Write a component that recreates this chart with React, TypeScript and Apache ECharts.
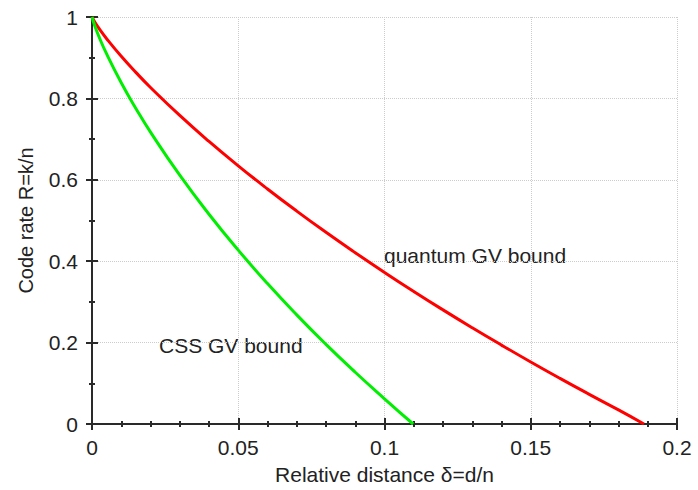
import React, { useEffect, useRef } from "react";
import * as echarts from "echarts";

const deltaQuantum = [0, 0.001, 0.0025, 0.005, 0.01, 0.015, 0.02, 0.03, 0.04, 0.05, 0.06, 0.07, 0.08, 0.09, 0.1, 0.11, 0.12, 0.13, 0.14, 0.15, 0.16, 0.17, 0.18, 0.1887];
const rateQuantum = [1, 0.987, 0.9708, 0.9467, 0.9034, 0.8639, 0.8269, 0.7581, 0.6943, 0.6344, 0.5775, 0.5231, 0.471, 0.4209, 0.3725, 0.3257, 0.2804, 0.2365, 0.1939, 0.1524, 0.1121, 0.0729, 0.0346, 0];
const deltaCSS = [0, 0.001, 0.0025, 0.005, 0.01, 0.015, 0.02, 0.03, 0.04, 0.05, 0.06, 0.07, 0.08, 0.09, 0.1, 0.1098];
const rateCSS = [1, 0.9772, 0.9496, 0.9092, 0.8384, 0.7753, 0.7171, 0.6112, 0.5154, 0.4272, 0.3451, 0.2682, 0.1956, 0.1271, 0.062, 0];

const FONT = "Liberation Sans, Arial, sans-serif";

export default function App() {
  const ref = useRef<HTMLDivElement>(null);
  useEffect(() => {
    if (!ref.current) return;
    const chart = echarts.init(ref.current, null, { renderer: "svg" });
    const axisLine = { show: true, lineStyle: { color: "#2a2a2a", width: 2 } };
    const tick = { show: true, inside: true, length: 6, lineStyle: { color: "#2a2a2a", width: 2 } };
    const minor = (n: number) => ({ show: true, splitNumber: n, length: 3, lineStyle: { color: "#2a2a2a", width: 2 } });
    chart.setOption({
      animation: false,
      backgroundColor: "#fff",
      grid: { left: 92, right: 21, top: 17, bottom: 61 },
      xAxis: [
        {
          type: "value", min: 0, max: 0.2, interval: 0.05, position: "bottom",
          axisLine, axisTick: tick, minorTick: minor(5),
          axisLabel: { fontFamily: FONT, fontSize: 21, color: "#222", margin: 13 },
          splitLine: { show: true, lineStyle: { color: "#ccc", type: "dotted", width: 1 } },
          name: "Relative distance δ=d/n", nameLocation: "middle", nameGap: 40,
          nameTextStyle: { fontFamily: FONT, fontSize: 21, color: "#222" },
        },
        {
          type: "value", min: 0, max: 0.2, interval: 0.05, position: "top",
          axisLine, axisTick: tick, minorTick: minor(5),
          axisLabel: { show: false }, splitLine: { show: false },
        },
      ],
      yAxis: [
        {
          type: "value", min: 0, max: 1, interval: 0.2, position: "left",
          axisLine, axisTick: tick, minorTick: minor(2),
          axisLabel: { fontFamily: FONT, fontSize: 21, color: "#222", margin: 14 },
          splitLine: { show: true, lineStyle: { color: "#ccc", type: "dotted", width: 1 } },
          name: "Code rate R=k/n", nameLocation: "middle", nameGap: 56,
          nameTextStyle: { fontFamily: FONT, fontSize: 20, color: "#222" },
        },
        {
          type: "value", min: 0, max: 1, interval: 0.2, position: "right",
          axisLine, axisTick: tick, minorTick: minor(2),
          axisLabel: { show: false }, splitLine: { show: false },
        },
      ],
      series: [
        {
          type: "line", name: "quantum GV bound", showSymbol: false, smooth: true,
          data: deltaQuantum.map((d, i) => [d, rateQuantum[i]]),
          lineStyle: { color: "#f00", width: 3 }, z: 3,
        },
        {
          type: "line", name: "CSS GV bound", showSymbol: false, smooth: true,
          data: deltaCSS.map((d, i) => [d, rateCSS[i]]),
          lineStyle: { color: "#0e0", width: 3 }, z: 3,
        },
      ],
      graphic: [
        { type: "text", left: 384, top: 245, style: { text: "quantum GV bound", fontFamily: FONT, fontSize: 21, fill: "#222" } },
        { type: "text", left: 159, top: 335, style: { text: "CSS GV bound", fontFamily: FONT, fontSize: 21, fill: "#222" } },
      ],
    });
    return () => chart.dispose();
  }, []);
  return <div ref={ref} style={{ width: 698, height: 490, position: "absolute", left: 0, top: 0 }} />;
}
